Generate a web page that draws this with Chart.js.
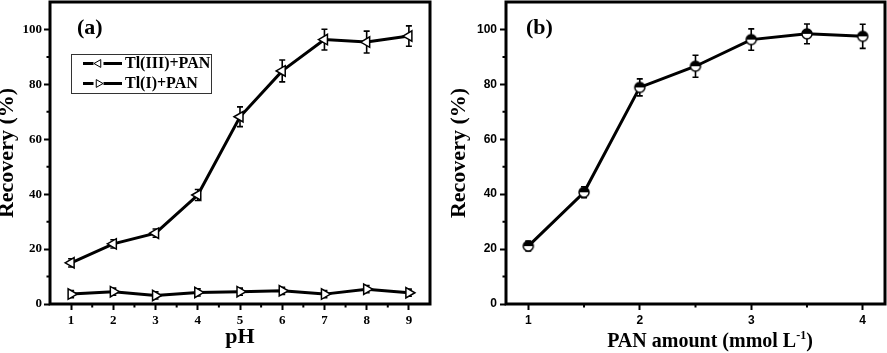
<!DOCTYPE html>
<html><head><meta charset="utf-8">
<script src="https://cdn.jsdelivr.net/npm/chart.js@4"></script>
<style>
html,body{margin:0;padding:0;background:#fff;}
#wrap{position:relative;width:887px;height:353px;overflow:hidden;background:#fff;}
canvas{position:absolute;top:0;}
#ca{left:0;} #cb{left:440px;}
</style></head><body>
<div id="wrap"><canvas id="ca" width="440" height="353"></canvas><canvas id="cb" width="447" height="353"></canvas></div>
<script>
// ---- data (a) ----
const pH = [1, 2, 3, 4, 5, 6, 7, 8, 9];
const tl3Recovery = [15.0, 21.9, 25.8, 39.7, 68.2, 84.9, 96.3, 95.4, 97.6];
const tl3Error    = [1.5, 1.5, 1.5, 2.0, 3.6, 4.0, 3.8, 4.0, 3.7];
const tl1Recovery = [3.6, 4.5, 3.1, 4.2, 4.5, 4.8, 3.6, 5.4, 4.1];
const tl1Error    = [1.3, 1.3, 1.3, 1.3, 1.3, 1.3, 1.3, 1.3, 1.3];
const seriesNamesA = ['Tl(III)+PAN', 'Tl(I)+PAN'];
// ---- data (b) ----
const panAmount = [1, 1.5, 2, 2.5, 3, 3.5, 4];
const panRecovery = [21.1, 40.7, 78.9, 86.6, 96.3, 98.4, 97.5];
const panError    = [1.8, 2.0, 3.1, 4.0, 3.9, 3.6, 4.4];
// ---- ticks ----
const yTicks = [0, 20, 40, 60, 80, 100];
const yMinor = [10, 30, 50, 70, 90];
const xTicksA = [1, 2, 3, 4, 5, 6, 7, 8, 9];
const xMinorA = [1.5, 2.5, 3.5, 4.5, 5.5, 6.5, 7.5, 8.5];
const xTicksB = [1, 2, 3, 4];
const xMinorB = [1.5, 2.5, 3.5];
const yTitle = 'Recovery (%)';
const xTitleA = 'pH';
const xTitleB = ['PAN amount (mmol L', '-1', ')'];

const SERIF = '"Liberation Serif", "Times New Roman", serif';
const SANS = '"Liberation Sans", Arial, sans-serif';

function pts(xs, ys) { return xs.map((x, i) => ({x: x, y: ys[i]})); }

function halfCircle(r) {
  const s = Math.ceil(2 * r + 4) + (Math.ceil(2 * r + 4) % 2);
  const c = document.createElement('canvas'); c.width = s; c.height = s;
  const g = c.getContext('2d'); const m = s / 2;
  g.fillStyle = '#fff'; g.beginPath(); g.arc(m, m, r, 0, 2 * Math.PI); g.fill();
  g.fillStyle = '#000'; g.beginPath(); g.arc(m, m, r, Math.PI, 2 * Math.PI); g.closePath(); g.fill();
  g.lineWidth = 1.5; g.strokeStyle = '#000'; g.beginPath(); g.arc(m, m, r, 0, 2 * Math.PI); g.stroke();
  return c;
}

const errorBars = {
  id: 'errorBars',
  beforeDatasetsDraw(chart) {
    const ctx = chart.ctx, x = chart.scales.x, y = chart.scales.y;
    ctx.save(); ctx.strokeStyle = '#000'; ctx.lineWidth = 1.6;
    chart.data.datasets.forEach(ds => {
      if (!ds.errors) return;
      ds.data.forEach((p, i) => {
        const e = ds.errors[i]; const px = x.getPixelForValue(p.x);
        const y1 = y.getPixelForValue(p.y + e), y2 = y.getPixelForValue(p.y - e);
        ctx.beginPath();
        ctx.moveTo(px, y1); ctx.lineTo(px, y2);
        ctx.moveTo(px - 3, y1); ctx.lineTo(px + 3, y1);
        ctx.moveTo(px - 3, y2); ctx.lineTo(px + 3, y2);
        ctx.stroke();
      });
    });
    ctx.restore();
  }
};

const frame = {
  id: 'frame',
  afterDraw(chart, args, opts) {
    const ctx = chart.ctx, a = chart.chartArea, x = chart.scales.x, y = chart.scales.y;
    ctx.save(); ctx.strokeStyle = '#000'; ctx.lineWidth = 2;
    ctx.beginPath();
    (opts.xMinor || []).forEach(v => { const px = x.getPixelForValue(v); ctx.moveTo(px, a.bottom); ctx.lineTo(px, a.bottom + 3.5); });
    (opts.yMinor || []).forEach(v => { const py = y.getPixelForValue(v); ctx.moveTo(a.left, py); ctx.lineTo(a.left - 3.5, py); });
    ctx.stroke();
    ctx.lineWidth = 3;
    ctx.strokeRect(a.left, a.top, a.right - a.left, a.bottom - a.top);
    ctx.restore();
  }
};

const panelLabel = {
  id: 'panelLabel',
  afterDraw(chart, args, opts) {
    if (!opts.text) return;
    const ctx = chart.ctx;
    ctx.save(); ctx.fillStyle = '#000'; ctx.font = 'bold 22px ' + SERIF;
    ctx.textBaseline = 'middle'; ctx.textAlign = 'left';
    ctx.fillText(opts.text, opts.x, opts.y);
    ctx.restore();
  }
};

const legendBox = {
  id: 'legendBox',
  afterDraw(chart, args, opts) {
    if (!opts.items) return;
    const ctx = chart.ctx;
    ctx.save();
    ctx.strokeStyle = '#333'; ctx.lineWidth = 1;
    ctx.strokeRect(opts.left + 0.5, opts.top + 0.5, opts.width, opts.height);
    opts.items.forEach((it, i) => {
      const cy = opts.top + 9.5 + i * 20;
      ctx.strokeStyle = '#000'; ctx.lineWidth = 3;
      ctx.beginPath(); ctx.moveTo(83, cy); ctx.lineTo(93.5, cy); ctx.moveTo(103.5, cy); ctx.lineTo(122, cy); ctx.stroke();
      ctx.fillStyle = '#fff'; ctx.strokeStyle = '#000'; ctx.lineWidth = 1;
      Chart.helpers.drawPoint(ctx, {pointStyle: 'triangle', rotation: it.rotation, radius: 4.5, borderWidth: 1}, 98.5, cy);
      ctx.fillStyle = '#000';
      ctx.font = 'bold 16px ' + SERIF; ctx.textBaseline = 'middle'; ctx.textAlign = 'left';
      ctx.fillText(it.label, 125, cy);
    });
    ctx.restore();
  }
};

const xTitleCustom = {
  id: 'xTitleCustom',
  afterDraw(chart, args, opts) {
    if (!opts.parts) return;
    const ctx = chart.ctx;
    ctx.save(); ctx.fillStyle = '#000'; ctx.textBaseline = 'alphabetic'; ctx.textAlign = 'left';
    const big = 'bold 20px ' + SERIF, small = 'bold 12px ' + SERIF;
    ctx.font = big; const w0 = ctx.measureText(opts.parts[0]).width; const w2 = ctx.measureText(opts.parts[2]).width;
    ctx.font = small; const w1 = ctx.measureText(opts.parts[1]).width;
    let x0 = opts.cx - (w0 + w1 + w2) / 2;
    ctx.font = big; ctx.fillText(opts.parts[0], x0, opts.baseline);
    ctx.font = small; ctx.fillText(opts.parts[1], x0 + w0, opts.baseline - 8);
    ctx.font = big; ctx.fillText(opts.parts[2], x0 + w0 + w1, opts.baseline);
    ctx.restore();
  }
};

function axisCommon(font, pad) {
  return {
    grid: {drawOnChartArea: false, drawTicks: true, tickLength: 6, tickWidth: 2, tickColor: '#000', color: '#000'},
    border: {display: false},
    ticks: {font: font, color: '#000', padding: pad}
  };
}

// ---------- Chart (a) ----------
const xa = axisCommon({family: SERIF, weight: 'bold', size: 13}, 3);
Object.assign(xa, {
  type: 'linear', min: 0.5, max: 9.5,
  afterBuildTicks: s => { s.ticks = xTicksA.map(v => ({value: v})); },
  afterFit: s => { s.height = 49; s.paddingLeft = 0; s.paddingRight = 0; },
  title: {display: true, text: xTitleA, color: '#000', font: {family: SERIF, weight: 'bold', size: 22}, padding: {top: 0, bottom: 2}}
});
const ya = axisCommon({family: SERIF, weight: 'bold', size: 13}, 2);
Object.assign(ya, {
  type: 'linear', min: 0, max: 110,
  afterBuildTicks: s => { s.ticks = yTicks.map(v => ({value: v})); },
  afterFit: s => { s.width = 50; s.paddingTop = 0; s.paddingBottom = 0; },
  title: {display: true, text: yTitle, color: '#000', font: {family: SERIF, weight: 'bold', size: 22, lineHeight: 0.64}, padding: {top: 0, bottom: 0}}
});

new Chart(document.getElementById('ca'), {
  type: 'line',
  data: {
    datasets: [
      {label: seriesNamesA[0], data: pts(pH, tl3Recovery), errors: tl3Error,
       borderColor: '#000', borderWidth: 3, pointStyle: 'triangle', pointRotation: -90,
       pointRadius: 6, pointBackgroundColor: '#fff', pointBorderColor: '#000', pointBorderWidth: 1.5, tension: 0},
      {label: seriesNamesA[1], data: pts(pH, tl1Recovery), errors: tl1Error,
       borderColor: '#000', borderWidth: 3, pointStyle: 'triangle', pointRotation: 90,
       pointRadius: 6, pointBackgroundColor: '#fff', pointBorderColor: '#000', pointBorderWidth: 1.5, tension: 0}
    ]
  },
  options: {
    responsive: false, animation: false, devicePixelRatio: 1,
    layout: {autoPadding: false, padding: {left: 0, top: 2, right: 10, bottom: 0}},
    scales: {x: xa, y: ya},
    plugins: {
      legend: {display: false}, tooltip: {enabled: false},
      frame: {xMinor: xMinorA, yMinor: yMinor},
      panelLabel: {text: '(a)', x: 77, y: 28},
      legendBox: {left: 71, top: 54, width: 140, height: 39,
        items: [{label: seriesNamesA[0], rotation: -90}, {label: seriesNamesA[1], rotation: 90}]}
    }
  },
  plugins: [errorBars, frame, panelLabel, legendBox]
});

// ---------- Chart (b) ----------
const xb = axisCommon({family: SANS, weight: 'bold', size: 12}, 3);
Object.assign(xb, {
  type: 'linear', min: 0.8, max: 4.2,
  afterBuildTicks: s => { s.ticks = xTicksB.map(v => ({value: v})); },
  afterFit: s => { s.height = 49; s.paddingLeft = 0; s.paddingRight = 0; },
  title: {display: false}
});
const yb = axisCommon({family: SANS, weight: 'bold', size: 12}, 3);
Object.assign(yb, {
  type: 'linear', min: 0, max: 110,
  afterBuildTicks: s => { s.ticks = yTicks.map(v => ({value: v})); },
  afterFit: s => { s.width = 66; s.paddingTop = 0; s.paddingBottom = 0; },
  title: {display: true, text: yTitle, color: '#000', font: {family: SERIF, weight: 'bold', size: 22}, padding: {top: 6, bottom: 0}}
});

new Chart(document.getElementById('cb'), {
  type: 'line',
  data: {
    datasets: [
      {label: 'Recovery', data: pts(panAmount, panRecovery), errors: panError,
       borderColor: '#000', borderWidth: 3, pointStyle: halfCircle(5), pointRadius: 5,
       tension: 0}
    ]
  },
  options: {
    responsive: false, animation: false, devicePixelRatio: 1,
    layout: {autoPadding: false, padding: {left: 0, top: 2, right: 2, bottom: 0}},
    scales: {x: xb, y: yb},
    plugins: {
      legend: {display: false}, tooltip: {enabled: false},
      frame: {xMinor: xMinorB, yMinor: yMinor},
      panelLabel: {text: '(b)', x: 86, y: 28},
      xTitleCustom: {parts: xTitleB, cx: 270, baseline: 347}
    }
  },
  plugins: [errorBars, frame, panelLabel, xTitleCustom]
});
</script>
</body></html>
